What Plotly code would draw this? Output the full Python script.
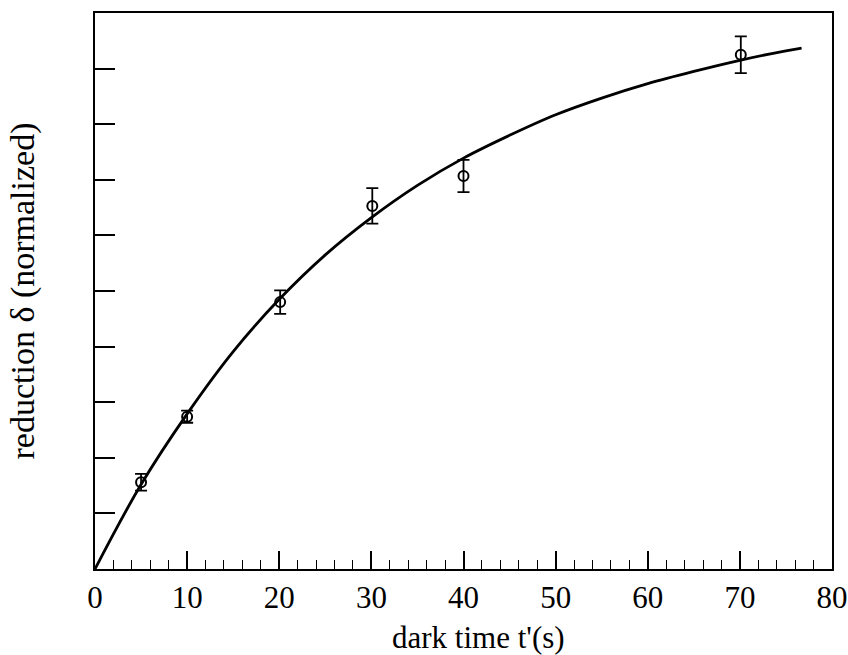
import plotly.graph_objects as go

# measured points
t_data = [5.0, 10.0, 20.1, 30.1, 40.0, 70.1]
delta_data = [0.156, 0.274, 0.480, 0.653, 0.707, 0.925]
delta_err = [0.015, 0.011, 0.021, 0.032, 0.029, 0.033]

# fitted curve
t_fit = [0, 5, 10, 15, 20, 25, 30, 35, 40, 45, 50, 55, 60, 65, 70, 75, 76.7]
delta_fit = [0, 0.152, 0.279, 0.391, 0.485, 0.565, 0.632, 0.690, 0.739, 0.780,
             0.817, 0.847, 0.873, 0.895, 0.915, 0.932, 0.937]

x_ticks = [0, 10, 20, 30, 40, 50, 60, 70, 80]

FONT = "Liberation Serif"

fig = go.Figure()
fig.add_trace(go.Scatter(
    x=t_fit, y=delta_fit, mode="lines",
    line=dict(color="black", width=2.8, shape="spline", smoothing=1.0),
    showlegend=False, hoverinfo="skip"))
fig.add_trace(go.Scatter(
    x=t_data, y=delta_data, mode="markers",
    marker=dict(symbol="circle-open", size=10, color="black", line=dict(width=2, color="black")),
    error_y=dict(type="data", array=delta_err, visible=True, color="black", thickness=1.8, width=6),
    showlegend=False))

fig.update_layout(
    width=848, height=655,
    margin=dict(l=95, r=16, t=13, b=86, autoexpand=False),
    paper_bgcolor="white", plot_bgcolor="white",
    font=dict(family=FONT, color="black", size=28),
    annotations=[dict(
        text="dark time t'(s)", xref="paper", yref="paper",
        x=0.521, y=-0.124, xanchor="center", yanchor="middle",
        showarrow=False, font=dict(family=FONT, size=31, color="black"))],
)
fig.update_xaxes(
    range=[0, 80], tickvals=x_ticks, ticktext=[str(v) for v in x_ticks],
    ticks="inside", ticklen=18, tickwidth=1.5, tickcolor="black",
    minor=dict(dtick=2, ticks="inside", ticklen=9, tickwidth=1.2, tickcolor="black", showgrid=False),
    showline=True, linecolor="black", linewidth=2, mirror=True,
    showgrid=False, zeroline=False, automargin=False,
    tickfont=dict(family=FONT, size=31, color="black"),
)
fig.update_yaxes(
    range=[0, 1.0], dtick=0.1, tick0=0,
    ticks="inside", ticklen=20, tickwidth=1.5, tickcolor="black",
    showticklabels=False, automargin=False,
    showline=True, linecolor="black", linewidth=2, mirror=True,
    showgrid=False, zeroline=False,
    title=dict(text="reduction δ (normalized)", font=dict(family=FONT, size=34, color="black"), standoff=48),
)

fig.write_html("out.html")
